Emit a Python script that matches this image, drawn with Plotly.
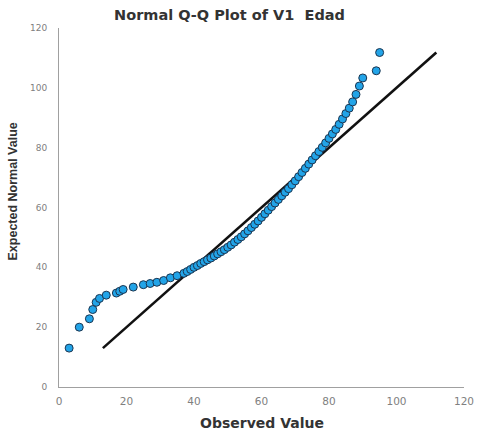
import plotly.graph_objects as go

# Observed ages and their expected normal values
observed = [3, 6, 9, 10, 11, 12, 14, 17, 18, 19, 22, 25, 27, 29, 31, 33,
            35, 37, 38, 39, 40, 41, 42, 43, 44, 45, 46, 47, 48, 49, 50,
            51, 52, 53, 54, 55, 56, 57, 58, 59, 60, 61, 62, 63, 64, 65,
            66, 67, 68, 69, 70, 71, 72, 73, 74, 75, 76, 77, 78, 79, 80,
            81, 82, 83, 84, 85, 86, 87, 88, 89, 90, 94, 95]
expected = [13.0, 20.0, 22.8, 25.9, 28.3, 29.6, 30.7, 31.4, 32.0, 32.6, 33.4,
            34.2, 34.6, 35.0, 35.6, 36.5, 37.2, 38.0, 38.6, 39.3, 40.0, 40.6,
            41.3, 41.9, 42.5, 43.1, 43.8, 44.5, 45.2, 45.9, 46.7, 47.5, 48.4,
            49.3, 50.2, 51.2, 52.2, 53.3, 54.4, 55.5, 56.7, 57.9, 59.1, 60.3,
            61.5, 62.7, 63.9, 65.1, 66.3, 67.6, 68.9, 70.3, 71.7, 73.1, 74.5,
            75.9, 77.3, 78.7, 80.1, 81.6, 83.1, 84.6, 86.1, 87.8, 89.6, 91.4,
            93.2, 95.3, 97.8, 100.6, 103.3, 105.7, 111.8]

# Reference line y = x spanning the expected-value range
ref_line = [min(expected), max(expected)]

tick_vals = [0, 20, 40, 60, 80, 100, 120]

W, H = 477, 436
L, R, T, B = 59, 13, 28, 49

fig = go.Figure()
fig.add_trace(go.Scatter(
    x=ref_line, y=ref_line, mode="lines",
    line=dict(color="#111111", width=2.6), hoverinfo="skip", showlegend=False,
))
fig.add_trace(go.Scatter(
    x=observed, y=expected, mode="markers",
    marker=dict(size=8, color="#22a4e8", line=dict(color="#1b3550", width=1)),
    showlegend=False,
))

fig.update_layout(
    width=W, height=H, autosize=False,
    margin=dict(l=L, r=R, t=T, b=B, pad=0, autoexpand=False),
    paper_bgcolor="white", plot_bgcolor="white",
    title=dict(text="<b>Normal Q-Q Plot of V1  Edad</b>", x=229.5 / W, xanchor="center",
               y=1 - 15 / H, yanchor="middle", automargin=False,
               font=dict(family="DejaVu Sans", size=14.5, color="#333333")),
    xaxis=dict(
        range=[0, 120], tickvals=tick_vals, showgrid=False, zeroline=False,
        showline=True, linecolor="#a0a0a0", linewidth=1, ticks="",
        ticklabelstandoff=4, automargin=False,
        tickfont=dict(family="DejaVu Sans", size=10.5, color="#808080"),
    ),
    yaxis=dict(
        range=[0, 120], tickvals=tick_vals, showgrid=False, zeroline=False,
        showline=True, linecolor="#a0a0a0", linewidth=1, ticks="",
        ticklabelstandoff=9, automargin=False,
        tickfont=dict(family="DejaVu Sans", size=9, color="#808080"),
    ),
    annotations=[
        dict(text="<b>Observed Value</b>", xref="paper", yref="paper",
             x=(261.5 - L) / (W - L - R), y=-(423 - (H - B)) / (H - T - B),
             xanchor="center", yanchor="middle", showarrow=False,
             font=dict(family="DejaVu Sans", size=14, color="#333333")),
        dict(text="<b>Expected Normal Value</b>", xref="paper", yref="paper",
             x=-(L - 12) / (W - L - R), y=((H - B) - 191.5) / (H - T - B),
             xanchor="center", yanchor="middle", textangle=-90, showarrow=False,
             font=dict(family="Liberation Sans", size=12.5, color="#333333")),
    ],
)

fig.write_html("out.html")
